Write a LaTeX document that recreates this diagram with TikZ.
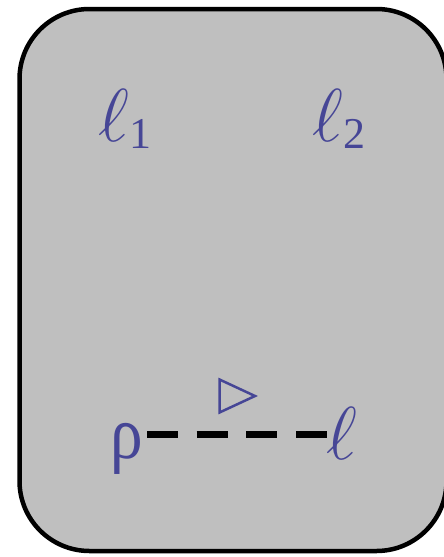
\RequirePackage{fix-cm}
\documentclass[tikz,border=0pt]{standalone}
\usepackage{fontspec}
\newfontfamily\timesfont{Liberation Serif}
\definecolor{inkblue}{RGB}{70,70,150}
\definecolor{panelgray}{RGB}{191,191,191}
\tikzset{
  panel/.style={draw=black, fill=panelgray, line width=4.5pt, rounded corners=70pt},
  lab/.style={text=inkblue, inner sep=0pt, anchor=base west},
  link/.style={draw=black, line width=7pt, dash pattern=on 31pt off 18.67pt},
  tri/.style={draw=inkblue, line width=2.5pt, line join=miter}
}
\newcommand{\myell}{{\fontsize{75}{75}\selectfont$\ell$}}
\newcommand{\mysubd}[1]{\raisebox{-7pt}{\fontsize{44}{44}\timesfont #1}}
\begin{document}
\begin{tikzpicture}[x=1pt,y=-1pt]
\useasboundingbox (0,0) rectangle (444,557);
\path[panel] (19.5,9) rectangle (446.5,551);
\node[lab] (l1) at (98,141) {\myell\mysubd{1}};
\node[lab] (l2) at (312,141) {\myell\mysubd{2}};
\node[lab] (rho) at (110,458) {\scalebox{0.87}[1]{\fontsize{75}{75}\timesfont ρ}};
\node[lab] (ell) at (326,459) {\myell};
\coordinate (dA) at (147,434.5);
\coordinate (dB) at (327,434.5);
\draw[link] (dA) -- (dB);
\coordinate (tA) at (219.5,379.5);
\coordinate (tB) at (219.5,412.5);
\coordinate (tC) at (255,396);
\draw[tri] (tA) -- (tC) -- (tB) -- cycle;
\end{tikzpicture}
\end{document}
